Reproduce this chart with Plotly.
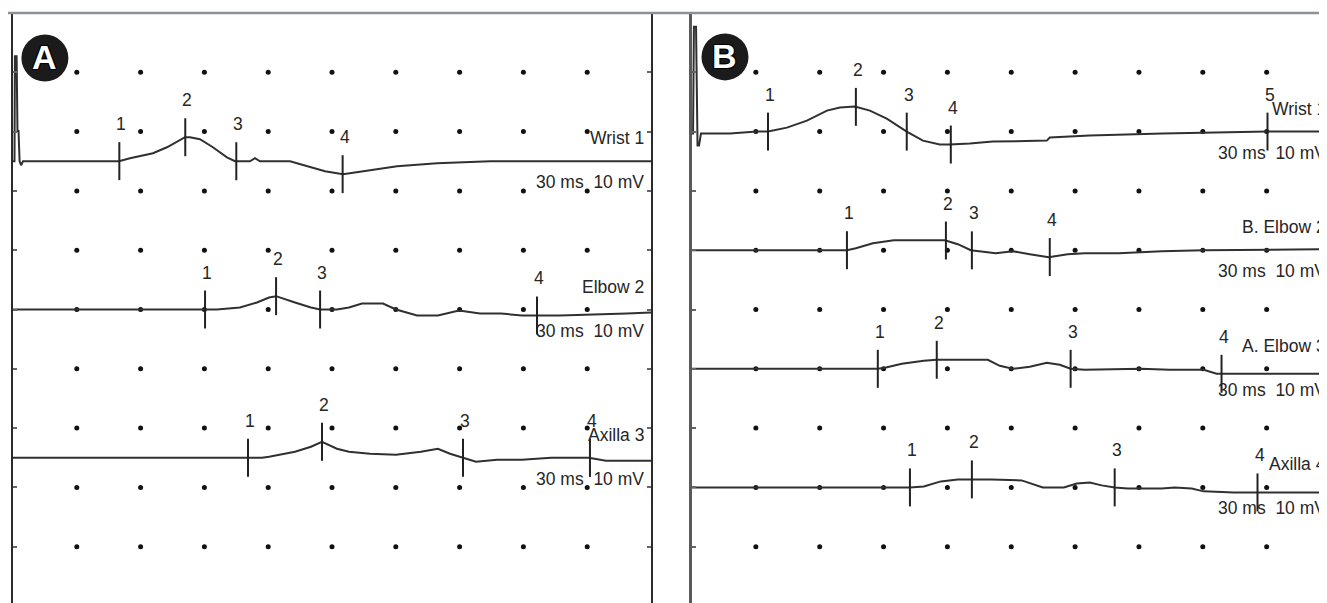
import numpy as np
import plotly.graph_objects as go

# Scales: 3 ms per horizontal division, 10 mV per vertical division
MS_PER_DIV = 3
MV_PER_DIV = 10

# ---------------- Panel A ----------------
A_WRIST_T = [0, 0.07, 0.09, 0.17, 0.21, 0.26, 0.31, 0.38, 0.47, 4.98, 5.50, 6.58, 7.24, 7.71, 8.09, 8.32,
             8.79, 9.40, 10.06, 10.44, 11.14, 11.38, 11.61, 13.03, 13.82, 14.67, 15.52, 16.79, 18.06,
             19.94, 22.43, 30.0]
A_WRIST_V = [0, 0, 17.7, 17.7, 5.1, 5.1, 0, -0.67, 0, 0, 0.51, 1.35, 2.36, 3.37, 4.05, 4.05,
             3.71, 2.36, 0.67, 0, 0, 0.51, 0, 0, -0.84, -1.69, -2.19, -1.52, -0.84,
             -0.34, 0, 0]
A_WRIST_MARKS = [5.0, 8.1, 10.5, 15.5]

A_ELBOW_T = [0, 9.59, 10.67, 11.47, 12.04, 12.37, 13.26, 14.01, 14.44, 15.23, 15.80, 16.41, 17.40,
             18.01, 19.00, 19.98, 20.97, 21.96, 22.95, 23.93, 24.64, 25.72, 28.87, 30.0]
A_ELBOW_V = [0, 0, 0.34, 1.18, 2.02, 2.25, 1.18, 0.34, 0, 0, 0.34, 1.01, 1.01,
             0, -1.01, -1.01, -0.17, -0.67, -0.67, -1.01, -1.01, -1.01, -0.67, -0.51]
A_ELBOW_MARKS = [9.03, 12.37, 14.44, 24.64]

A_AXILLA_T = [0, 11.05, 11.71, 12.04, 13.26, 14.01, 14.53, 15.23, 15.80, 16.79, 18.01, 19.18, 19.98,
              20.55, 21.16, 21.77, 22.76, 23.93, 25.30, 27.08, 27.88, 30.0]
A_AXILLA_V = [0, 0, 0, 0.17, 1.01, 1.85, 2.70, 1.52, 1.01, 0.67, 0.51, 1.01, 1.52,
              0.67, 0, -0.67, -0.34, -0.34, 0, 0, -0.51, -0.51]
A_AXILLA_MARKS = [11.05, 14.53, 21.16, 27.13]

# ---------------- Panel B ----------------
B_WRIST_T = [0, 0.05, 0.09, 0.19, 0.26, 0.33, 0.42, 1.78, 3.05, 3.57, 4.46, 5.40, 6.34, 6.95, 7.65,
             8.36, 9.15, 9.77, 10.09, 10.85, 11.64, 12.11, 13.05, 14.13, 16.67, 16.81, 18.69, 22.11,
             23.99, 27.04, 30.0]
B_WRIST_V = [-0.34, -0.34, 17.7, 17.7, -2.36, -2.36, -0.34, -0.34, 0, 0, 0.67, 1.85, 3.54, 4.05, 4.22,
             3.54, 2.19, 0.67, 0, -1.52, -2.19, -2.19, -2.02, -1.69, -1.52, -1.01, -0.67, -0.34,
             -0.17, 0, 0]
B_WRIST_MARKS = [3.57, 7.70, 10.09, 12.16, 27.04]

B_BELBOW_T = [0, 7.28, 7.70, 8.50, 9.48, 11.88, 12.49, 13.10, 14.27, 15.07, 15.87, 16.76, 17.65,
              18.45, 20.05, 20.85, 22.07, 24.04, 30.0]
B_BELBOW_V = [0, 0, 0.34, 1.18, 1.69, 1.69, 1.01, 0, -0.51, -0.17, -0.67, -1.18, -0.67,
              -0.51, -0.51, -0.34, -0.17, 0, 0.17]
B_BELBOW_MARKS = [7.28, 11.93, 13.15, 16.81]

B_AELBOW_T = [0, 8.73, 9.06, 9.86, 10.89, 11.50, 12.49, 13.90, 14.46, 15.07, 15.87, 16.67, 17.28,
              17.79, 18.45, 21.08, 22.44, 24.04, 24.65, 25.26, 30.0]
B_AELBOW_V = [0, 0, 0.17, 0.84, 1.35, 1.52, 1.52, 1.52, 0.51, 0, 0.34, 1.01, 0.67,
              0, -0.17, 0, -0.17, -0.17, -0.84, -0.84, -0.84]
B_AELBOW_MARKS = [8.73, 11.50, 17.79, 24.88]

B_AXILLA_T = [0, 10.24, 10.89, 11.69, 12.49, 13.15, 14.08, 15.49, 16.06, 16.48, 17.47, 18.08, 18.69,
              19.25, 19.86, 20.47, 22.07, 22.68, 23.48, 24.04, 25.45, 30.0]
B_AXILLA_V = [0, 0, 0.17, 1.01, 1.35, 1.35, 1.35, 1.18, 0.51, 0, 0, 0.67, 0.84,
              0.34, 0, -0.17, -0.17, 0, -0.17, -0.67, -0.84, -0.84]
B_AXILLA_MARKS = [10.24, 13.15, 19.86, 26.57]

SCALE_TEXT = "30 ms\u00a0\u00a010 mV"

# trace layout: (panel, name, baseline mV, times, values, marker times)
TRACES = [
    ("A", "Wrist 1", -25, A_WRIST_T, A_WRIST_V, A_WRIST_MARKS),
    ("A", "Elbow 2", -50, A_ELBOW_T, A_ELBOW_V, A_ELBOW_MARKS),
    ("A", "Axilla 3", -75, A_AXILLA_T, A_AXILLA_V, A_AXILLA_MARKS),
    ("B", "Wrist 1", -20, B_WRIST_T, B_WRIST_V, B_WRIST_MARKS),
    ("B", "B. Elbow 2", -40, B_BELBOW_T, B_BELBOW_V, B_BELBOW_MARKS),
    ("B", "A. Elbow 3", -60, B_AELBOW_T, B_AELBOW_V, B_AELBOW_MARKS),
    ("B", "Axilla 4", -80, B_AXILLA_T, B_AXILLA_V, B_AXILLA_MARKS),
]

OFF = 8  # page body margin
W, H = 1327 - OFF, 603 - OFF
TOP = 13 - OFF
PX_PER_DIV_X = 63.85
PX_PER_DIV_Y = 59.3
A_LEFT, A_RIGHT = 13 - OFF, 651 - OFF
B_LEFT = 692 - OFF
Y_RANGE = [-(H - TOP) / PX_PER_DIV_Y * MV_PER_DIV, 0]
XB_MAX = (W - B_LEFT) / PX_PER_DIV_X * MS_PER_DIV

FONT = "Liberation Sans, Arial, sans-serif"
FS = 17.5
INK = "#262626"

fig = go.Figure()
axes = {"A": ("x", "y"), "B": ("x2", "y2")}
x_end = {"A": (30, -5), "B": (XB_MAX, 1)}

# dot grid
for panel, xmax in (("A", 30), ("B", XB_MAX)):
    gx, gy = [], []
    for i in range(1, 10):
        for j in range(1, 10):
            if i * MS_PER_DIV <= xmax:
                gx.append(i * MS_PER_DIV)
                gy.append(-j * MV_PER_DIV)
    xa, ya = axes[panel]
    fig.add_trace(go.Scatter(x=gx, y=gy, mode="markers", xaxis=xa, yaxis=ya,
                             marker=dict(size=5, color="#111", symbol="circle"),
                             hoverinfo="skip", showlegend=False))

annotations = []
HALF = 3.2  # half length of latency marker (mV)
for panel, name, base, t, v, marks in TRACES:
    xa, ya = axes[panel]
    y = [base + a for a in v]
    fig.add_trace(go.Scatter(x=t, y=y, mode="lines", xaxis=xa, yaxis=ya,
                             line=dict(color="#303030", width=2),
                             hoverinfo="skip", showlegend=False))
    mx, my = [], []
    for k, m in enumerate(marks):
        val = float(np.interp(m, t, y))
        mx += [m, m, None]
        my += [val - HALF, val + HALF, None]
        annotations.append(dict(x=m, y=val, xref=xa, yref=ya, text=str(k + 1), showarrow=False,
                                xshift=2, yshift=37, font=dict(family=FONT, size=FS, color=INK)))
    fig.add_trace(go.Scatter(x=mx, y=my, mode="lines", xaxis=xa, yaxis=ya,
                             line=dict(color="#222", width=2),
                             hoverinfo="skip", showlegend=False))
    xr, xs = x_end[panel]
    annotations.append(dict(x=xr, y=base, xref=xa, yref=ya, text=name, showarrow=False,
                            xanchor="right", xshift=xs, yshift=23,
                            font=dict(family=FONT, size=FS, color=INK)))
    annotations.append(dict(x=xr, y=base, xref=xa, yref=ya, text=SCALE_TEXT, showarrow=False,
                            xanchor="right", xshift=xs, yshift=-21,
                            font=dict(family=FONT, size=FS, color=INK)))

# panel badges
shapes = []
for panel, letter, bx, by in (("A", "A", 1.50, -7.6), ("B", "B", 1.55, -7.4)):
    xa, ya = axes[panel]
    shapes.append(dict(type="circle", xref=xa, yref=ya, xsizemode="pixel", ysizemode="pixel",
                       xanchor=bx, yanchor=by, x0=-23.5, x1=23.5, y0=-23.5, y1=23.5,
                       fillcolor="#1b1b1b", line=dict(width=0), layer="above"))
    annotations.append(dict(x=bx, y=by, xref=xa, yref=ya, text=letter, showarrow=False,
                            yshift=1,
                            font=dict(family=FONT, size=34, color="white", weight=700,
                                      shadow="1px 1px 0 #000, -1px -1px 0 #000, 1px -1px 0 #000, -1px 1px 0 #000")))

# gray top border line across the whole picture
shapes.append(dict(type="line", xref="paper", yref="paper", x0=0, x1=1, y0=1, y1=1,
                   line=dict(color="#8b9197", width=2.5), layer="above"))

common_x = dict(showgrid=False, zeroline=False, showticklabels=False, ticks="", showline=False)
common_y = dict(showgrid=False, zeroline=False, showticklabels=False, range=Y_RANGE,
                ticks="inside", ticklen=4, tickwidth=1.5, tickcolor="#666",
                tick0=0, dtick=MV_PER_DIV, showline=True)

fig.update_layout(
    width=W, height=H,
    margin=dict(l=0, r=0, t=TOP, b=0),
    paper_bgcolor="white", plot_bgcolor="white",
    xaxis=dict(domain=[A_LEFT / W, A_RIGHT / W], range=[0, 30], **common_x),
    yaxis=dict(anchor="x", linecolor="#2a2a2a", linewidth=2, mirror="ticks", **common_y),
    xaxis2=dict(domain=[B_LEFT / W, 1], range=[0, XB_MAX], **common_x),
    yaxis2=dict(anchor="x2", linecolor="#5a5a5a", linewidth=2.5, mirror=False, **common_y),
    annotations=annotations,
    shapes=shapes,
    showlegend=False,
)

fig.write_html("out.html")
